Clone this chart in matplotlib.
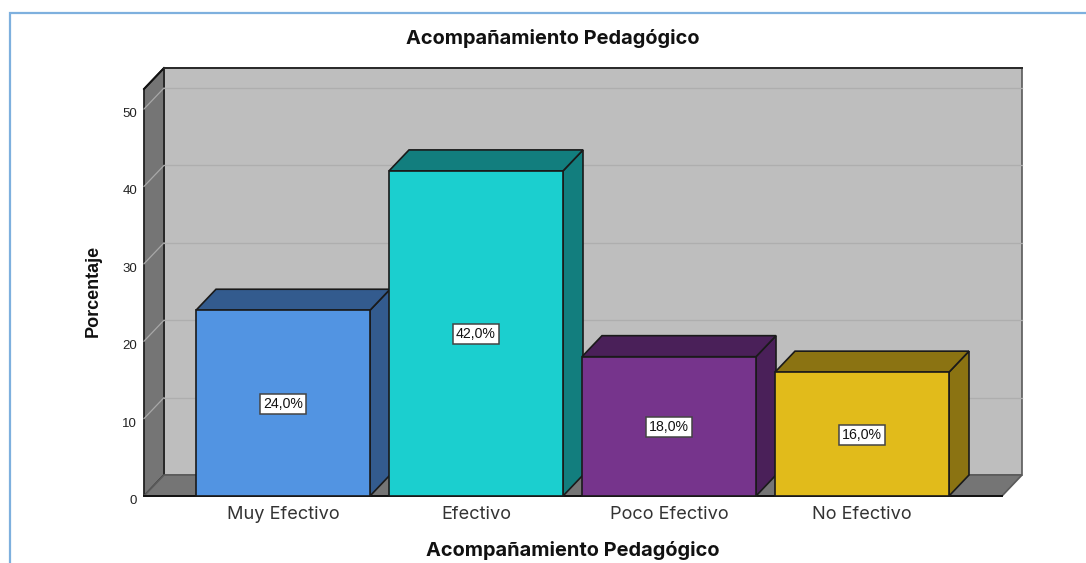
import matplotlib
matplotlib.use("Agg")
import matplotlib.pyplot as plt
from matplotlib.patches import Polygon, Rectangle
from matplotlib.transforms import ScaledTranslation

plt.rcParams['font.family'] = ['Liberation Sans', 'DejaVu Sans']

categories = ["Muy Efectivo", "Efectivo", "Poco Efectivo", "No Efectivo"]
values = [24.0, 42.0, 18.0, 16.0]
value_labels = ["24,0%", "42,0%", "18,0%", "16,0%"]
front_colors = ["#5294E2", "#1BCFCF", "#76348C", "#E1BB1B"]
side_colors = ["#335B8E", "#127E7E", "#4A2059", "#8B7312"]
y_ticks = [0, 10, 20, 30, 40, 50]

W, H = 1086, 563
fig = plt.figure(figsize=(W / 100, H / 100), dpi=100, facecolor="white")
fig.add_artist(Rectangle((9.5 / W, -0.05), 1.05, 1.05 - 13.5 / H, transform=fig.transFigure,
                         fill=False, edgecolor="#7EB0DE", linewidth=1.6))

L, R, B, T = 144, 1002, 496, 89
ax = fig.add_axes([L / W, 1 - B / H, (R - L) / W, (B - T) / H])
xunit = 193.0
yunit = 7.74
ax.set_xlim((L - 283) / xunit, (R - 283) / xunit)
ax.set_ylim(0, (B - T) / yunit)
ax.patch.set_visible(False)
for s in ax.spines.values():
    s.set_visible(False)

dx = 20 / xunit
dy = 21 / yunit
x0, x1 = ax.get_xlim()
y0, y1 = ax.get_ylim()
edge = "#1a1a1a"


def poly(pts, fc, ec=edge, lw=1.2, z=1):
    ax.add_patch(Polygon(pts, closed=True, facecolor=fc, edgecolor=ec, linewidth=lw,
                         zorder=z, clip_on=False, joinstyle="miter"))


# back wall, side wall, floor
poly([(x0 + dx, y0 + dy), (x1 + dx, y0 + dy), (x1 + dx, y1 + dy), (x0 + dx, y1 + dy)], "#BEBEBE", ec="#5a5a5a")
poly([(x0, y0), (x0 + dx, y0 + dy), (x0 + dx, y1 + dy), (x0, y1)], "#757575", ec="#222222", lw=1.3)
poly([(x0, y0), (x1, y0), (x1 + dx, y0 + dy), (x0 + dx, y0 + dy)], "#757575", ec="#5a5a5a")
ax.plot([x0, x1], [0, 0], color="#111111", lw=1.4, zorder=1.5, clip_on=False)
ax.plot([x0, x0 + dx], [y1, y1 + dy], color="#111111", lw=1.4, zorder=1.5, clip_on=False)
ax.plot([x0 + dx, x1 + dx], [y1 + dy, y1 + dy], color="#2a2a2a", lw=1.4, zorder=1.5, clip_on=False)

# gridlines
for t in y_ticks[1:]:
    ax.plot([x0, x0 + dx], [t, t + dy], color="#A8A8A8", lw=0.9, zorder=1.2, clip_on=False)
    ax.plot([x0 + dx, x1 + dx], [t + dy, t + dy], color="#AEAEAE", lw=0.9, zorder=1.2, clip_on=False)

# bars
hw = 87 / xunit
for i, v in enumerate(values):
    a, b = i - hw, i + hw
    poly([(b, 0), (b + dx, dy), (b + dx, v + dy), (b, v)], side_colors[i], z=2)
    poly([(a, v), (b, v), (b + dx, v + dy), (a + dx, v + dy)], side_colors[i], z=2)
    poly([(a, 0), (b, 0), (b, v), (a, v)], front_colors[i], z=3)
    ax.text(i, v / 2 - 0.1, value_labels[i], ha="center", va="center", fontsize=10.2, color="#111111", zorder=4,
            bbox=dict(boxstyle="square,pad=0.2", facecolor="white", edgecolor="#444444", linewidth=1.1))

ax.set_xticks(range(len(categories)))
ax.set_xticklabels(categories, fontsize=13.1, color="#333333", family=['Inter', 'Liberation Sans'])
ax.set_yticks(y_ticks)
ax.set_yticklabels([str(t) for t in y_ticks], fontsize=9.5, color="#222222")
ax.tick_params(axis="both", length=0)
ax.tick_params(axis="x", pad=7)
ax.tick_params(axis="y", pad=6)
shift = ScaledTranslation(1.5 / 100, -3.5 / 100, fig.dpi_scale_trans)
for lab in ax.get_yticklabels():
    lab.set_transform(lab.get_transform() + shift)

fig.text(552.5 / W, 1 - 38 / H, "Acompañamiento Pedagógico", ha="center", va="center",
         fontsize=14.4, fontweight="bold", color="#111111", family=['Inter', 'Liberation Sans'])
fig.text(572.5 / W, 1 - 550 / H, "Acompañamiento Pedagógico", ha="center", va="center",
         fontsize=14.4, fontweight="bold", color="#111111", family=['Inter', 'Liberation Sans'])
fig.text(93 / W, 1 - 291 / H, "Porcentaje", ha="center", va="center", rotation=90,
         fontsize=13, fontweight="bold", color="#111111")

fig.savefig("out.png", dpi=100)
